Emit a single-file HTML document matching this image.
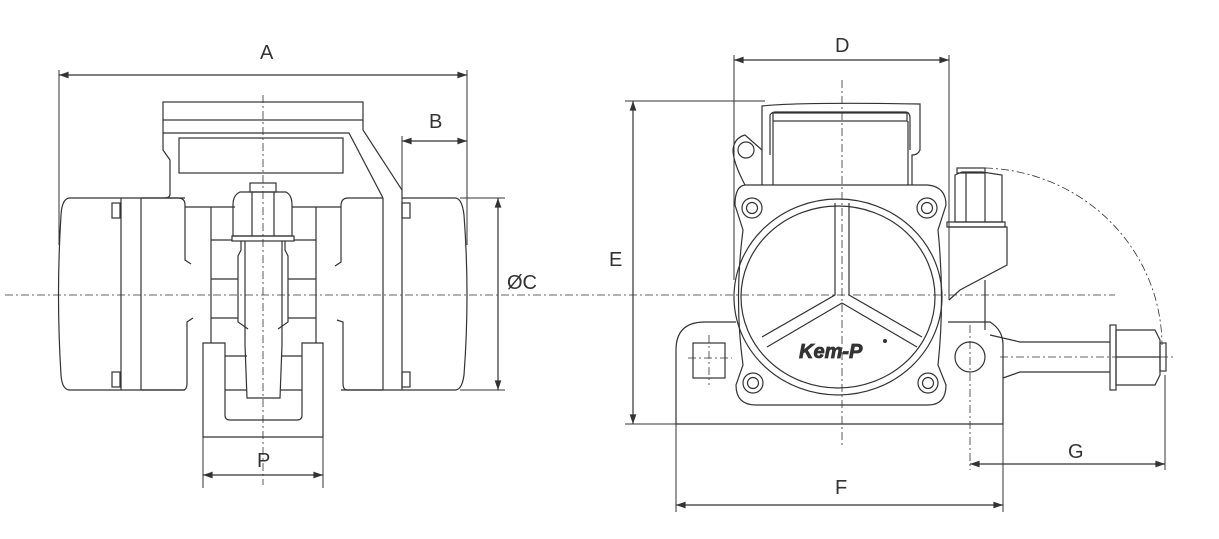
<!DOCTYPE html>
<html><head><meta charset="utf-8"><style>
html,body{margin:0;padding:0;background:#fff;}
svg{display:block}
text{font-family:"Liberation Sans",sans-serif;font-size:20px;fill:#333;}
</style></head><body>
<svg width="1219" height="539" viewBox="0 0 1219 539" xmlns="http://www.w3.org/2000/svg">
<defs>
<marker id="ar" viewBox="0 0 10 10" refX="10" refY="5" markerWidth="10" markerHeight="8" orient="auto-start-reverse"><path d="M0,1.5 L10,5 L0,8.5 z" fill="#333"/></marker>
</defs>
<g fill="none" stroke="#333" stroke-width="1.2">
<g stroke-dasharray="8,3,2,3" stroke-width="0.8">
<line x1="5" y1="295" x2="1115" y2="295"/>
<line x1="263" y1="95" x2="263" y2="485"/>
<line x1="842" y1="80" x2="842" y2="445"/>
<line x1="970" y1="325" x2="970" y2="470"/>
<line x1="1000" y1="357" x2="1175" y2="357"/>
<line x1="688" y1="358" x2="732" y2="358"/>
<line x1="709" y1="335" x2="709" y2="385"/>
<path d="M985,168 A182,178 0 0 1 1162,345"/>
</g>
<!-- LEFT VIEW -->
<line x1="59" y1="70" x2="59" y2="245" stroke-width="1"/>
<line x1="467" y1="70" x2="467" y2="245" stroke-width="1"/>
<line x1="59" y1="75" x2="467" y2="75" marker-start="url(#ar)" marker-end="url(#ar)"/>
<line x1="402" y1="136" x2="402" y2="198" stroke-width="1"/>
<line x1="402" y1="141" x2="467" y2="141" marker-start="url(#ar)" marker-end="url(#ar)"/>
<line x1="460" y1="198" x2="505" y2="198" stroke-width="1"/>
<line x1="460" y1="390" x2="505" y2="390" stroke-width="1"/>
<line x1="498" y1="198" x2="498" y2="390" marker-start="url(#ar)" marker-end="url(#ar)"/>
<line x1="203" y1="437" x2="203" y2="488" stroke-width="1"/>
<line x1="323" y1="437" x2="323" y2="488" stroke-width="1"/>
<line x1="203" y1="475" x2="323" y2="475" marker-start="url(#ar)" marker-end="url(#ar)"/>
<rect x="163" y="102" width="200" height="18"/>
<path d="M163,120 V150 L170,160 V194 Q170,198 165,198"/>
<path d="M163,133 H349 L383,198"/>
<path d="M363,120 V130 L402,190 V198"/>
<rect x="179" y="138" width="164" height="35"/>
<path d="M185,198 H70 Q62,198 61,215 Q56,295 61,375 Q62,390 70,390 H185"/>
<line x1="121" y1="198" x2="121" y2="390"/>
<line x1="141" y1="198" x2="141" y2="390"/>
<rect x="112" y="203" width="8" height="15"/>
<rect x="112" y="372" width="8" height="15"/>
<path d="M141,198 H178 Q185,198 185,205 V260 L191,264"/>
<path d="M141,390 H183 Q187,390 187,383 V322 L193,318"/>
<path d="M341,390 H455 Q462,390 464,375 Q470,295 464,215 Q462,198 455,198 H402"/>
<line x1="383" y1="198" x2="383" y2="390"/>
<line x1="402" y1="198" x2="402" y2="390"/>
<rect x="402" y="203" width="8" height="15"/>
<rect x="402" y="372" width="8" height="15"/>
<path d="M383,198 H348 Q341,198 341,206 V262 L335,266"/>
<path d="M383,390 H347 Q343,390 343,383 V322 L337,320"/>
<line x1="185" y1="207" x2="235" y2="207"/>
<line x1="292" y1="207" x2="341" y2="207"/>
<path d="M211,207 V343 M316,207 V343"/>
<line x1="211" y1="240" x2="232" y2="240"/>
<line x1="294" y1="240" x2="316" y2="240"/>
<path d="M240,192 Q233,195 233,205 V236 H292 V205 Q292,195 286,192 Z"/>
<rect x="250" y="183" width="26" height="9"/>
<line x1="252" y1="192" x2="252" y2="236"/><line x1="274" y1="192" x2="274" y2="236"/>
<rect x="232" y="236" width="62" height="5"/>
<path d="M241,241 V250 L238,256 V322 L248,329 M211,279 H238 M211,318 H238"/>
<path d="M285,241 V250 L288,256 V322 L278,329 M288,279 H316 M288,318 H316"/>
<path d="M245,241 V345 L247,398 H280 L282,345 V241"/>
<path d="M203,437 V343 H225 V415 Q225,420 230,420 H297 Q302,420 302,415 V343 H323 V437 Z"/>
<line x1="225" y1="356" x2="247" y2="356"/><line x1="281" y1="356" x2="302" y2="356"/>
<line x1="225" y1="390" x2="247" y2="390"/><line x1="281" y1="390" x2="302" y2="390"/>
<!-- RIGHT VIEW -->
<line x1="734" y1="55" x2="734" y2="280" stroke-width="1"/>
<line x1="949" y1="55" x2="949" y2="300" stroke-width="1"/>
<line x1="734" y1="60" x2="949" y2="60" marker-start="url(#ar)" marker-end="url(#ar)"/>
<line x1="625" y1="101" x2="765" y2="101" stroke-width="1"/>
<line x1="625" y1="424" x2="676" y2="424" stroke-width="1"/>
<line x1="633" y1="101" x2="633" y2="424" marker-start="url(#ar)" marker-end="url(#ar)"/>
<line x1="676" y1="424" x2="676" y2="512" stroke-width="1"/>
<line x1="1003" y1="424" x2="1003" y2="512" stroke-width="1"/>
<line x1="676" y1="505" x2="1003" y2="505" marker-start="url(#ar)" marker-end="url(#ar)"/>
<line x1="1165" y1="375" x2="1165" y2="470" stroke-width="1"/>
<line x1="970" y1="464" x2="1165" y2="464" marker-start="url(#ar)" marker-end="url(#ar)"/>
<path d="M762,185 V106 Q800,102 920,104 V150 Q918,155 912,155 V185"/>
<path d="M770,155 V115 Q772,112 775,112 H905 Q910,112 910,118 V150"/>
<rect x="773" y="113" width="134" height="8"/>
<line x1="773" y1="121" x2="773" y2="185"/><line x1="908" y1="121" x2="908" y2="185"/>
<path d="M762,150 L745,135 Q734,138 733,150 Q733,162 745,185"/>
<circle cx="746" cy="150" r="8"/>
<path d="M736,322 H705 Q676,322 676,350 V424 H1003 V345 Q1003,330 990,322 H948"/>
<rect x="693" y="343" width="32" height="35"/>
<circle cx="970" cy="357" r="15"/>
<path d="M746,185 H928 Q946,187 946,205 L938,230 Q945,300 938,365 L946,385 Q946,405 928,405 H756 Q736,405 736,385 L743,365 Q734,300 743,230 L735,205 Q735,185 746,185 Z"/>
<ellipse cx="838" cy="297" rx="104" ry="98"/>
<ellipse cx="838" cy="297" rx="97" ry="91"/>
<circle cx="752" cy="208" r="10"/><circle cx="752" cy="208" r="5.5"/>
<circle cx="927" cy="208" r="10"/><circle cx="927" cy="208" r="5.5"/>
<circle cx="753" cy="383" r="10"/><circle cx="753" cy="383" r="5.5"/>
<circle cx="928" cy="383" r="10"/><circle cx="928" cy="383" r="5.5"/>
<path d="M835,203 V295 L762,337 M849,203 V295 L922,337"/>
<path d="M842,303 L767,347 M842,303 L917,347"/>
<rect x="957" y="168" width="28" height="5"/>
<path d="M955,175 L962,172 H982 L1002,175 V222 H955 Z"/>
<line x1="966" y1="173" x2="966" y2="222"/><line x1="985" y1="173" x2="985" y2="222"/>
<rect x="947" y="222" width="58" height="5"/>
<path d="M949,227 H1007 V265 L960,290 L949,300"/>
<path d="M985,280 V330"/>
<path d="M990,335 L1020,342 H1110 M1003,378 L1020,372 H1110"/>
<rect x="1110" y="325" width="6" height="65"/>
<path d="M1116,330 H1155 L1160,340 V375 L1155,385 H1116 Z"/>
<line x1="1116" y1="357" x2="1160" y2="357"/>
<rect x="1160" y="343" width="6" height="28"/>
</g>
<text x="799" y="358" font-family="Liberation Serif,serif" font-style="italic" font-weight="bold" font-size="17" fill="#fff" stroke="#333" stroke-width="0.8">Kem-P</text>
<circle cx="885" cy="341" r="2" fill="#333"/>
<text x="260" y="59">A</text>
<text x="429" y="128">B</text>
<text x="507" y="289">ØC</text>
<text x="257" y="467">P</text>
<text x="835" y="52">D</text>
<text x="609" y="266">E</text>
<text x="835" y="494">F</text>
<text x="1068" y="458">G</text>
</svg>
</body></html>
